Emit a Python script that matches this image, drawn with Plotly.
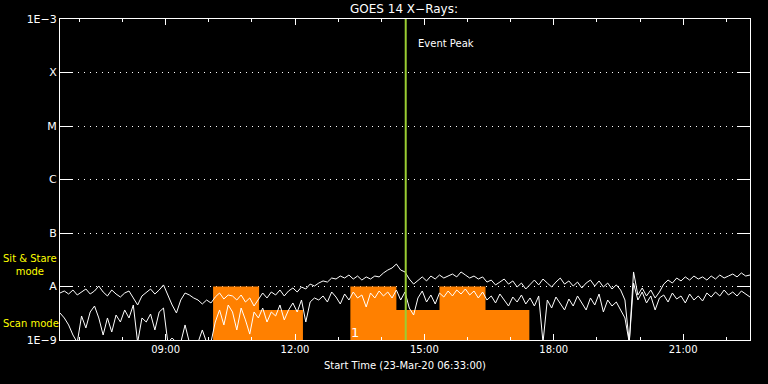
import pandas as pd
import plotly.graph_objects as go

# ---- data (flux in units of 1e-9 W/m^2), one sample every 6 minutes from 06:33 ----
start_time = "2020-03-23 06:33:00"
sample_step = "6min"

long_flux = [
    7.56, 8.24, 7.24, 8.60, 6.94, 7.89, 8.98, 7.24, 8.24, 10.2,
    7.89, 6.65, 8.60, 7.24, 6.36, 7.56, 8.24, 6.10, 4.51, 6.65,
    7.89, 8.98, 7.24, 8.60, 10.7, 6.65, 4.51, 3.20, 5.59, 7.56,
    6.94, 6.10, 5.59, 4.71, 5.59, 4.92, 6.36, 7.56, 5.84, 6.94,
    6.65, 5.59, 6.94, 5.13, 6.10, 4.32, 5.59, 7.56, 6.10, 7.89,
    6.94, 8.60, 6.65, 8.24, 9.38, 7.89, 9.79, 8.98, 11.1, 10.2,
    11.6, 12.7, 12.1, 14.4, 13.8, 15.7, 14.4, 16.4, 13.8, 15.7,
    13.2, 15.1, 13.8, 15.7, 15.1, 17.9, 20.3, 22.2, 26.3, 20.3,
    18.7, 13.8, 11.1, 13.2, 15.1, 12.7, 15.7, 13.8, 16.4, 14.4,
    15.7, 17.1, 15.1, 18.7, 16.4, 14.4, 15.7, 13.8, 15.1, 12.1,
    13.2, 10.7, 12.1, 13.8, 11.1, 12.7, 9.79, 11.6, 8.98, 11.1,
    13.2, 10.7, 13.8, 11.6, 9.79, 12.1, 14.4, 11.1, 12.7, 10.2,
    12.1, 9.38, 11.6, 13.2, 10.2, 12.7, 9.79, 11.6, 8.98, 10.7,
    8.60, 5.59, 0.90, 18.7, 6.94, 9.38, 6.65, 8.60, 6.10, 7.89,
    11.1, 13.2, 11.6, 14.4, 12.7, 15.1, 13.2, 15.7, 13.8, 15.1,
    13.2, 15.7, 13.8, 16.4, 14.4, 15.7, 17.1, 15.1, 17.9, 15.7, 16.4,
]

short_flux = [
    3.20, 2.58, 1.91, 1.24, 0.90, 2.81, 1.68, 3.34, 4.32, 2.58,
    1.24, 2.58, 1.41, 2.93, 2.17, 3.64, 2.58, 4.51, 0.90, 2.58,
    2.17, 3.06, 1.54, 3.34, 3.96, 0.90, 1.09, 0.90, 0.90, 1.91,
    0.90, 0.90, 0.90, 1.54, 0.90, 0.90, 2.17, 3.64, 1.91, 4.51,
    3.34, 1.54, 3.96, 2.37, 1.29, 3.34, 2.58, 3.96, 2.17, 3.34,
    2.81, 4.51, 2.37, 3.64, 4.92, 3.34, 5.59, 2.17, 5.13, 6.10,
    5.59, 6.65, 5.13, 7.89, 6.36, 4.71, 7.24, 5.59, 7.89, 6.10,
    6.94, 4.14, 7.56, 6.10, 8.24, 6.65, 7.89, 6.10, 8.60, 5.59,
    7.89, 3.96, 2.93, 6.10, 8.24, 5.13, 6.94, 4.71, 7.56, 6.36,
    8.24, 6.65, 8.60, 7.24, 8.98, 6.94, 8.24, 6.10, 7.89, 5.59,
    6.65, 4.92, 7.24, 5.59, 4.32, 6.36, 5.13, 6.94, 4.71, 6.10,
    4.32, 6.65, 0.90, 5.59, 3.96, 6.36, 4.71, 3.64, 5.84, 4.32,
    6.65, 4.92, 3.64, 6.10, 4.51, 7.24, 3.34, 5.59, 4.32, 5.13,
    3.64, 2.58, 0.90, 11.6, 5.59, 7.89, 4.92, 6.65, 3.64, 6.10,
    6.94, 5.13, 7.56, 5.84, 6.65, 4.92, 7.24, 5.59, 6.65, 5.36,
    7.56, 6.36, 7.89, 6.65, 8.60, 6.94, 7.89, 6.65, 8.24, 7.24, 6.36,
]

# observing-mode intervals (orange blocks)
mode_start = ["2020-03-23 10:06", "2020-03-23 11:10", "2020-03-23 13:17",
              "2020-03-23 14:21", "2020-03-23 15:21", "2020-03-23 16:25"]
mode_end = ["2020-03-23 11:10", "2020-03-23 12:11", "2020-03-23 14:21",
            "2020-03-23 15:21", "2020-03-23 16:25", "2020-03-23 17:26"]
mode_level = [1.0e-8, 3.64e-9, 1.0e-8, 3.64e-9, 1.0e-8, 3.64e-9]

event_peak = "2020-03-23 14:34"
x_range = ["2020-03-23 06:33:00", "2020-03-23 22:33:00"]

y_tickvals = [1e-9, 1e-8, 1e-7, 1e-6, 1e-5, 1e-4, 1e-3]
y_ticktext = ["1E\u22129", "A", "B", "C", "M", "X", "1E\u22123"]
y_floor = 1e-9
y_top = 1e-3

times = pd.date_range(start_time, periods=len(long_flux), freq=sample_step)
long_w = [v * 1e-9 for v in long_flux]
short_w = [v * 1e-9 for v in short_flux]

FONT = "DejaVu Sans"
L, R, T, B = 60, 18, 19, 44
PW, PH = 768 - L - R, 384 - T - B


def px_x(px):
    return (px - L) / PW


def px_y(py):
    return (384 - B - py) / PH


fig = go.Figure()

# orange mode blocks
bx, by = [], []
for s, e, lv in zip(mode_start, mode_end, mode_level):
    bx += [s, s, e, e, s, None]
    by += [y_floor, lv, lv, y_floor, y_floor, None]
fig.add_trace(go.Scatter(x=bx, y=by, mode="lines", fill="toself",
                         fillcolor="#ff8000", line=dict(width=0, color="#ff8000"),
                         hoverinfo="skip"))

fig.add_trace(go.Scatter(x=times, y=long_w, mode="lines",
                         line=dict(color="white", width=1)))
fig.add_trace(go.Scatter(x=times, y=short_w, mode="lines",
                         line=dict(color="white", width=1)))

# event peak line
fig.add_trace(go.Scatter(x=[event_peak, event_peak], y=[y_floor, y_top], mode="lines",
                         line=dict(color="#9acd32", width=2), hoverinfo="skip"))

fig.update_layout(
    width=768, height=384,
    paper_bgcolor="black", plot_bgcolor="black",
    margin=dict(l=L, r=R, t=T, b=B),
    showlegend=False, hovermode=False,
    font=dict(family=FONT, color="white", size=10),
    title=dict(text="GOES 14 X\u2212Rays:", x=(404 / 768), xanchor="center",
               y=1 - 9 / 384, yanchor="middle",
               font=dict(family=FONT, size=12, color="white")),
)

fig.update_xaxes(
    type="date", range=x_range,
    showgrid=False, zeroline=False,
    showline=True, linecolor="white", linewidth=1, mirror="ticks",
    ticks="inside", ticklen=6, tickcolor="white", tickwidth=1,
    tick0="2020-03-23 00:00", dtick=3 * 3600000, tickformat="%H:%M",
    tickfont=dict(family=FONT, size=10, color="white"),
    minor=dict(ticks="inside", ticklen=3, tickcolor="white", dtick=3600000,
               tick0="2020-03-23 00:00", showgrid=False),
    title=dict(text="Start Time (23-Mar-20 06:33:00)",
               font=dict(family=FONT, size=10, color="white"), standoff=7),
)

fig.update_yaxes(
    type="log", range=[-9, -3],
    tickvals=y_tickvals, ticktext=y_ticktext,
    showgrid=True, gridcolor="white", gridwidth=1, griddash="1px,5px",
    zeroline=False,
    showline=True, linecolor="white", linewidth=1, mirror="ticks",
    ticks="inside", ticklen=13, tickcolor="white", tickwidth=1,
    tickfont=dict(family=FONT, size=11, color="white"),
)

# annotations
fig.add_annotation(text="Event Peak", x=event_peak, xref="x", xshift=10, xanchor="left",
                   y=px_y(43), yref="paper", yanchor="middle", showarrow=False,
                   font=dict(family=FONT, size=10, color="white"))
fig.add_annotation(text="Sit & Stare<br>mode", x=px_x(1), xref="paper", xanchor="left",
                   align="center", y=px_y(264.5), yref="paper", yanchor="middle",
                   showarrow=False, font=dict(family=FONT, size=10, color="yellow"))
fig.add_annotation(text="Scan mode", x=px_x(1), xref="paper", xanchor="left",
                   y=px_y(323), yref="paper", yanchor="middle", showarrow=False,
                   font=dict(family=FONT, size=10, color="yellow"))
fig.add_annotation(text="1", x="2020-03-23 13:24", xref="x", xanchor="center",
                   y=px_y(332), yref="paper", yanchor="middle", showarrow=False,
                   font=dict(family=FONT, size=13, color="white"))

fig.write_html("out.html",
               config={"displayModeBar": False, "staticPlot": True},
               post_script="document.body.style.margin='0px';document.body.style.overflow='hidden';")
